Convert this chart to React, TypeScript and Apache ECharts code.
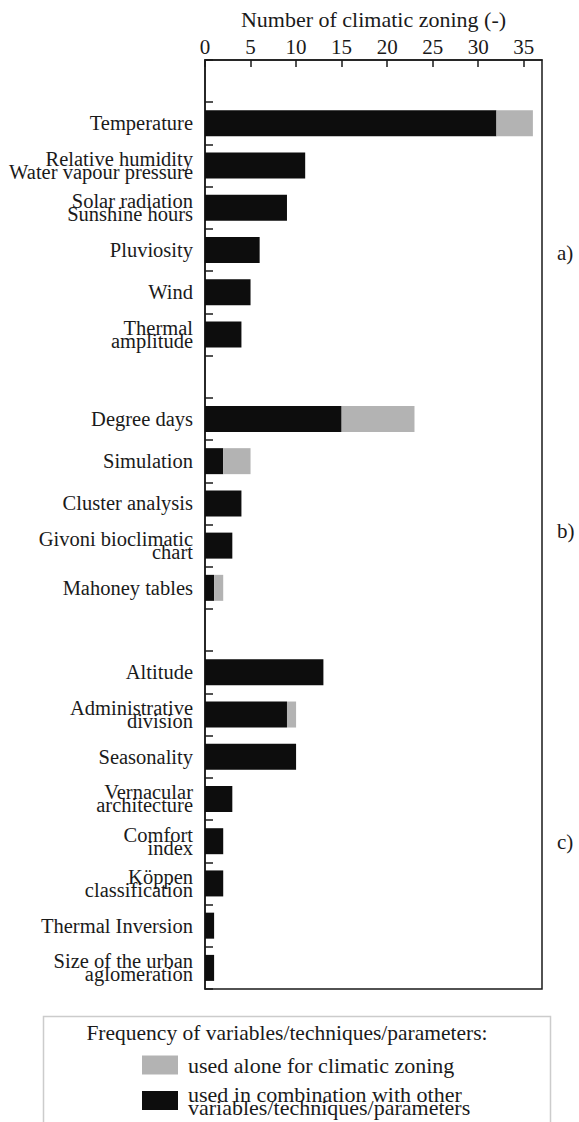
import React, { useEffect, useRef } from "react";
import * as echarts from "echarts";

const categories = [
  "_gap0",
  "Temperature",
  "Relative humidity\nWater vapour pressure",
  "Solar radiation\nSunshine hours",
  "Pluviosity",
  "Wind",
  "Thermal\namplitude",
  "_gap1",
  "Degree days",
  "Simulation",
  "Cluster analysis",
  "Givoni bioclimatic\nchart",
  "Mahoney tables",
  "_gap2",
  "Altitude",
  "Administrative\ndivision",
  "Seasonality",
  "Vernacular\narchitecture",
  "Comfort\nindex",
  "Köppen\nclassification",
  "Thermal Inversion",
  "Size of the urban\naglomeration",
];

const usedInCombination = [
  null, 32, 11, 9, 6, 5, 4,
  null, 15, 2, 4, 3, 1,
  null, 13, 9, 10, 3, 2, 2, 1, 1,
];

const usedAlone = [
  null, 4, 0, 0, 0, 0, 0,
  null, 8, 3, 0, 0, 1,
  null, 0, 1, 0, 0, 0, 0, 0, 0,
];

const xTicks = { min: 0, max: 37, interval: 5 };
const groupLabels = ["a)", "b)", "c)"];
const axisTitle = "Number of climatic zoning (-)";
const legendTitle = "Frequency of variables/techniques/parameters:";
const seriesNames = [
  "used alone for climatic zoning",
  "used in combination with other\nvariables/techniques/parameters",
];

const FONT = "'Liberation Serif', 'Times New Roman', serif";
const INK = "#1a1a1a";

export default function App() {
  const ref = useRef<HTMLDivElement>(null);

  useEffect(() => {
    if (!ref.current) return;
    const chart = echarts.init(ref.current, null, { renderer: "svg" });
    chart.setOption({
      animation: false,
      backgroundColor: "#ffffff",
      textStyle: { fontFamily: FONT, color: INK },
      grid: {
        left: 205,
        right: 37,
        top: 60,
        bottom: 133,
        show: true,
        borderColor: INK,
        borderWidth: 1.5,
        backgroundColor: "transparent",
      },
      xAxis: {
        type: "value",
        position: "top",
        min: xTicks.min,
        max: xTicks.max,
        interval: xTicks.interval,
        name: axisTitle,
        nameLocation: "middle",
        nameGap: 30,
        nameTextStyle: { fontFamily: FONT, fontSize: 22, color: INK },
        axisLine: { show: true, lineStyle: { color: INK, width: 1.5 } },
        axisTick: { show: true, inside: true, length: 7, lineStyle: { color: INK, width: 1.5 } },
        axisLabel: {
          fontFamily: FONT,
          fontSize: 21,
          color: INK,
          margin: 3,
          showMaxLabel: false,
        },
        splitLine: { show: false },
      },
      yAxis: {
        type: "category",
        inverse: true,
        data: categories,
        axisLine: { show: true, lineStyle: { color: INK, width: 1.5 } },
        axisTick: { show: true, inside: true, length: 8, lineStyle: { color: INK, width: 1.5 } },
        axisLabel: {
          fontFamily: FONT,
          fontSize: 20.5,
          lineHeight: 13,
          color: INK,
          margin: 12,
          interval: 0,
          formatter: (v: string) => (v.startsWith("_gap") ? "" : v),
        },
        splitLine: { show: false },
      },
      legend: {
        orient: "vertical",
        left: 142,
        top: 1054,
        height: 120,
        padding: 0,
        itemWidth: 36,
        itemHeight: 19,
        itemGap: 7,
        icon: "rect",
        data: [seriesNames[0], seriesNames[1]],
        textStyle: {
          fontFamily: FONT,
          fontSize: 22,
          lineHeight: 13,
          color: INK,
          padding: [0, 0, 0, 5],
        },
        selectedMode: false,
      },
      graphic: [
        {
          type: "rect",
          left: 41,
          top: 1014,
          shape: { width: 507, height: 120 },
          style: { fill: "none", stroke: "#cccccc", lineWidth: 1.5 },
          z: 0,
        },
        {
          type: "text",
          x: 287,
          y: 1033,
          style: {
            text: legendTitle,
            fontFamily: FONT,
            fontSize: 21.5,
            fill: INK,
            align: "center",
            verticalAlign: "middle",
          },
        },
        {
          type: "text",
          x: 557,
          y: 253,
          style: { text: groupLabels[0], fontFamily: FONT, fontSize: 21, fill: INK, verticalAlign: "middle" },
        },
        {
          type: "text",
          x: 557,
          y: 531,
          style: { text: groupLabels[1], fontFamily: FONT, fontSize: 21, fill: INK, verticalAlign: "middle" },
        },
        {
          type: "text",
          x: 557,
          y: 842,
          style: { text: groupLabels[2], fontFamily: FONT, fontSize: 21, fill: INK, verticalAlign: "middle" },
        },
      ],
      series: [
        {
          name: seriesNames[1],
          type: "bar",
          stack: "total",
          barWidth: 26,
          data: usedInCombination,
          itemStyle: { color: "#0d0d0d" },
        },
        {
          name: seriesNames[0],
          type: "bar",
          stack: "total",
          barWidth: 26,
          data: usedAlone,
          itemStyle: { color: "#b3b3b3" },
        },
      ],
    });
    return () => chart.dispose();
  }, []);

  return (
    <div
      ref={ref}
      style={{ position: "absolute", left: 0, top: 0, width: 579, height: 1122, background: "#fff" }}
    />
  );
}
